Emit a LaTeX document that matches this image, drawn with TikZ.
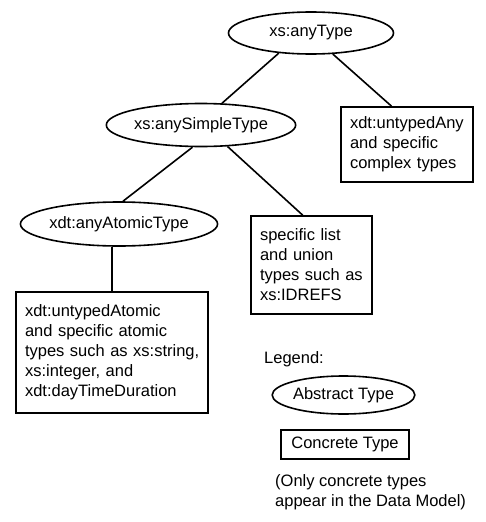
\documentclass[tikz,border=0pt]{standalone}
\usepackage{fontspec}
\setmainfont{Liberation Sans}
\usetikzlibrary{shapes.geometric}
\begin{document}
\begin{tikzpicture}[x=1pt,y=-1pt,
  every node/.style={font=\fontsize{16.5}{20}\selectfont},
  abstract/.style={ellipse,draw,line width=1.6pt,inner sep=0pt},
  concrete/.style={rectangle,draw,line width=1.6pt,inner xsep=9pt,inner ysep=0pt,align=left},
  link/.style={line width=1.6pt}]
\useasboundingbox (0,0) rectangle (485,522);
\node[abstract,minimum width=165pt,minimum height=42pt] (at) at (311,33) {xs:anyType};
\node[abstract,minimum width=165pt,minimum height=43pt] (st) at (201,125) {xs:anySimpleType};
\node[abstract,minimum width=166pt,minimum height=44pt] (aa) at (119,224) {xdt:anyAtomicType};
\node[concrete,minimum width=132pt,minimum height=75pt,text width=114pt] (ua) at (407,144.5)
  {\mbox{xdt:untypedAny}\\and specific\\complex types};
\node[concrete,minimum width=121pt,minimum height=98pt,text width=103pt] (li) at (311.5,265)
  {specific list\\and union\\types such as\\xs:IDREFS};
\node[concrete,minimum width=192pt,minimum height=121pt,text width=174pt] (ab) at (112,352.5)
  {xdt:untypedAtomic\\and specific atomic\\\mbox{types such as xs:string,}\\xs:integer, and\\xdt:dayTimeDuration};
\node[anchor=west,inner sep=0pt] (lg) at (264,359) {Legend:};
\node[abstract,minimum width=129pt,minimum height=38pt] (la) at (343.5,395) {Abstract Type};
\node[concrete,minimum width=128pt,minimum height=29pt,inner xsep=0pt] (lc) at (345,444.5) {Concrete Type};
\node[anchor=west,inner sep=0pt,align=left] (nt) at (275,492)
  {(Only concrete types\\appear in the Data Model)};
\draw[link] (at.212) -- (st.46);
\draw[link] (at.316) -- (ua.112);
\draw[link] (st.249) -- (aa.80);
\draw[link] (st.321) -- (li.100);
\draw[link] (ab.north) -- (ab.north |- aa.south);
\end{tikzpicture}
\end{document}
